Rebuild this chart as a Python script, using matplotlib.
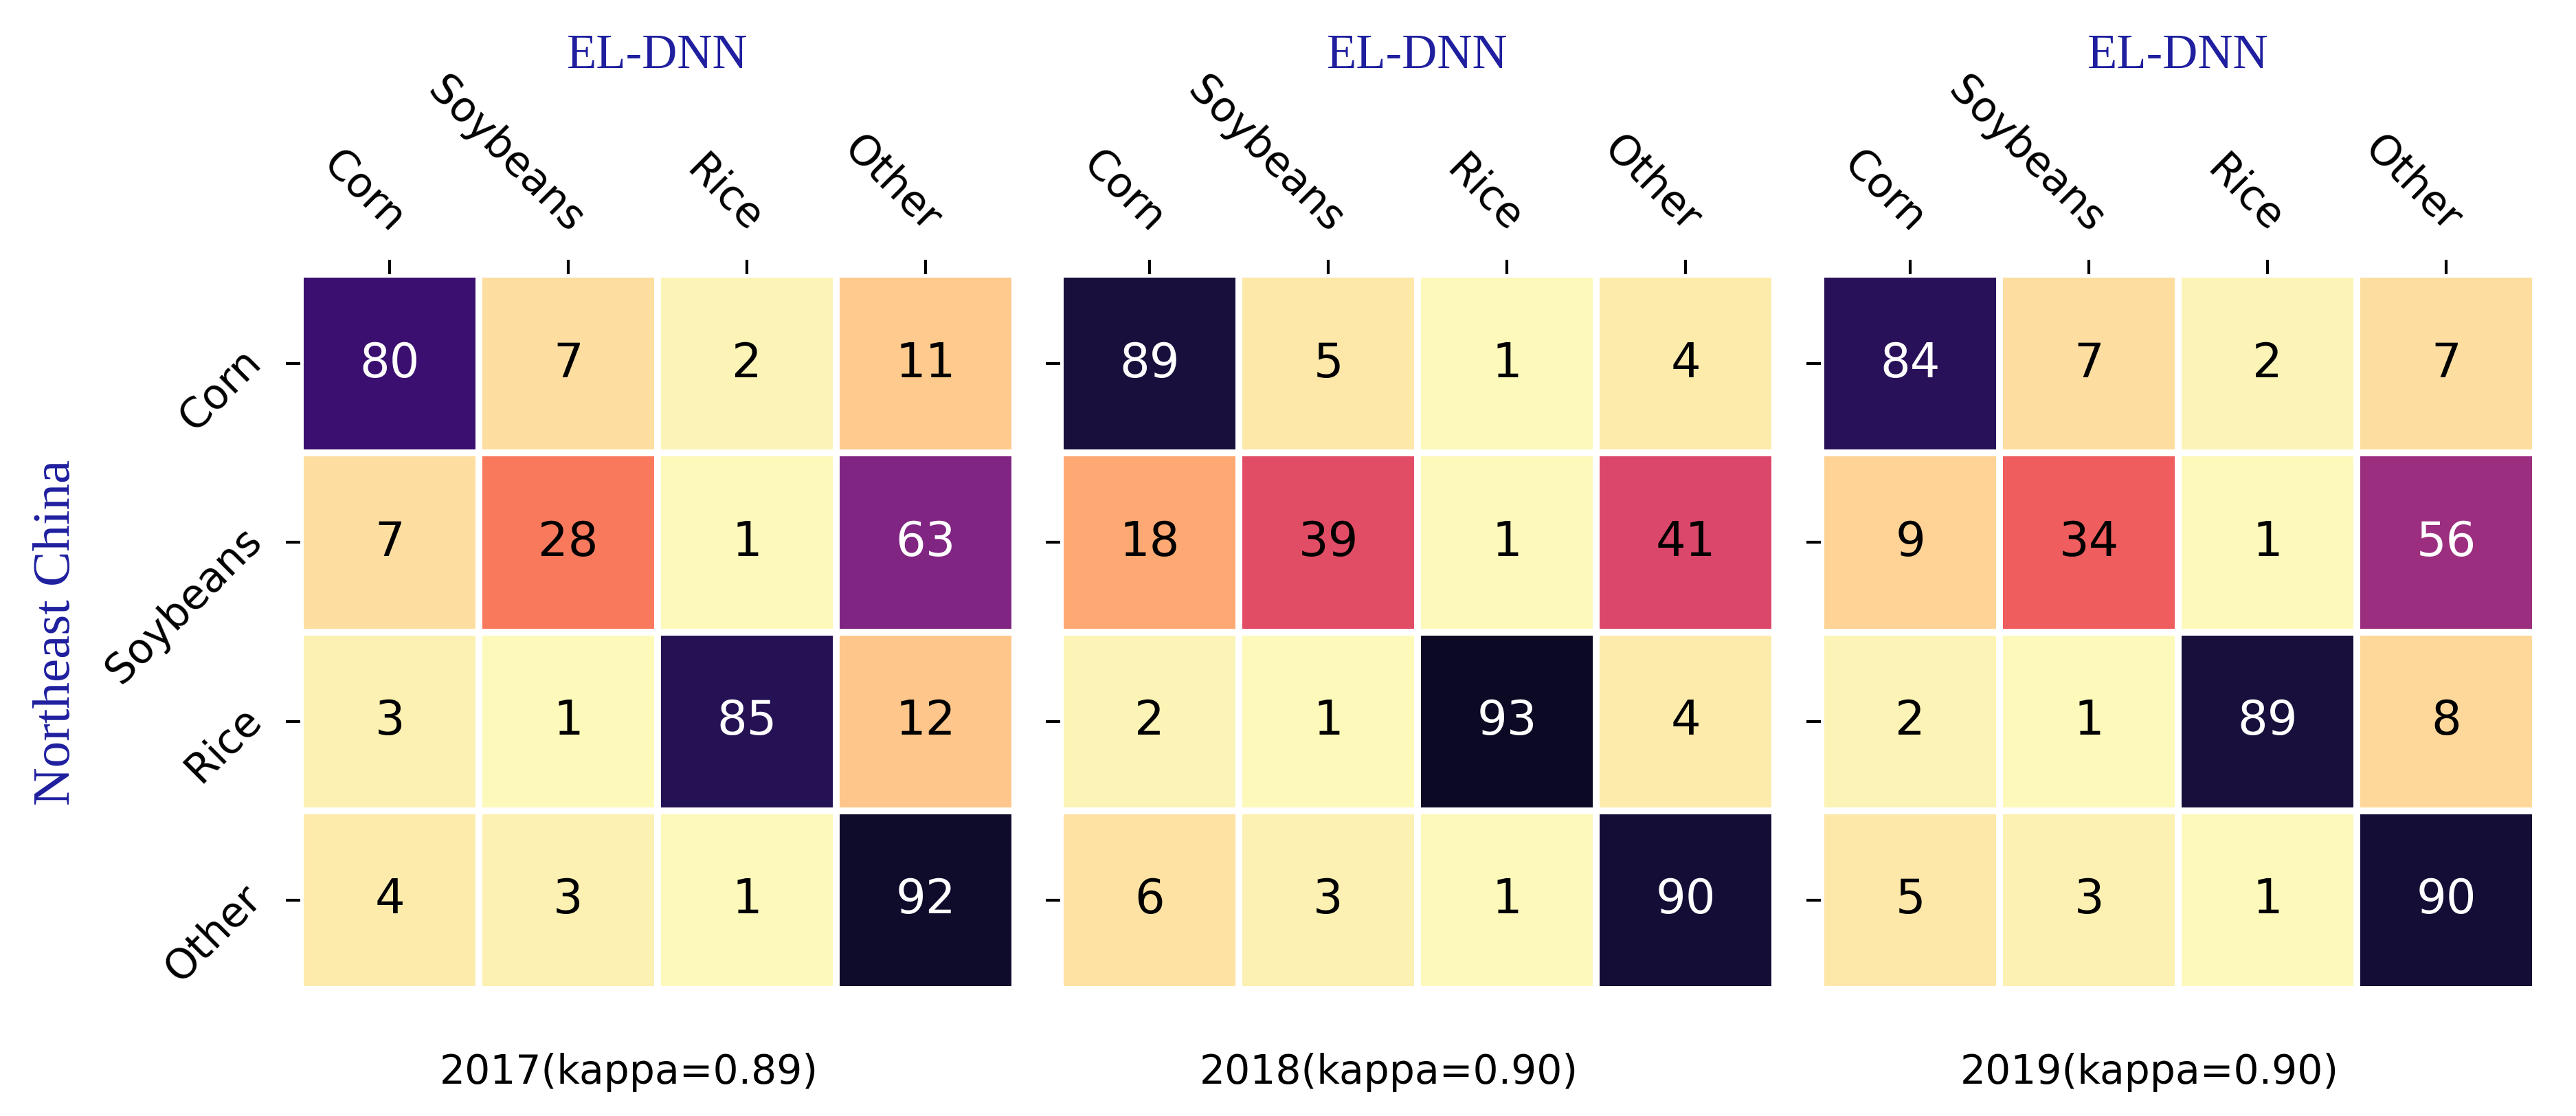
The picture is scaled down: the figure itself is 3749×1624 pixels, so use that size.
import numpy as np
import matplotlib.pyplot as plt
import seaborn as sns

classes = ['Corn', 'Soybeans', 'Rice', 'Other']

cm_2017 = [[80, 7, 2, 11],
           [7, 28, 1, 63],
           [3, 1, 85, 12],
           [4, 3, 1, 92]]
cm_2018 = [[89, 5, 1, 4],
           [18, 39, 1, 41],
           [2, 1, 93, 4],
           [6, 3, 1, 90]]
cm_2019 = [[84, 7, 2, 7],
           [9, 34, 1, 56],
           [2, 1, 89, 8],
           [5, 3, 1, 90]]

years = ['2017', '2018', '2019']
kappas = ['0.89', '0.90', '0.90']
matrices = [cm_2017, cm_2018, cm_2019]

model_name = 'EL-DNN'
region_name = 'Northeast China'

serif = ['Liberation Serif', 'DejaVu Serif']
blue = '#1f1f9f'

fig = plt.figure(figsize=(3749 / 300, 1624 / 300), dpi=300)
lefts = [0.1166, 0.4116, 0.7069]

for i, (cm, year, kappa) in enumerate(zip(matrices, years, kappas)):
    ax = fig.add_axes([lefts[i], 0.1133, 0.2774, 0.641])
    data = np.array(cm)
    sns.heatmap(data, ax=ax, annot=True, fmt='d', cmap='magma_r', vmin=0, vmax=100,
                cbar=False, linewidths=2, linecolor='white',
                xticklabels=classes, yticklabels=classes,
                annot_kws={'size': 16.5})
    # light text on dark cells
    for t, v in zip(ax.texts, data.flatten()):
        t.set_color('white' if v >= 50 else 'black')

    ax.xaxis.tick_top()
    ax.tick_params(axis='x', length=5, width=1.0, pad=9, labelsize=14.5)
    ax.tick_params(axis='y', length=5, width=1.0, pad=8, labelsize=14.5)
    plt.setp(ax.get_xticklabels(), rotation=-45, ha='right', va='baseline',
             rotation_mode='anchor')
    if i == 0:
        plt.setp(ax.get_yticklabels(), rotation=45, ha='right', va='baseline',
                 rotation_mode='anchor')
    else:
        ax.tick_params(axis='y', labelleft=False)

    ax.set_xlabel(f'{year}(kappa={kappa})', fontsize=14, va='center')
    ax.xaxis.set_label_coords(0.46, -0.116)
    ax.set_ylabel('')

    ax.text(0.5, 1.305, model_name, transform=ax.transAxes, ha='center', va='center',
            fontsize=17, family=serif, color=blue)

fig.text(0.0219, 0.4335, region_name, rotation=90, ha='center', va='center',
         fontsize=18.5, family=serif, color=blue)

plt.savefig('out.png', dpi=300, facecolor='white')
plt.close()
